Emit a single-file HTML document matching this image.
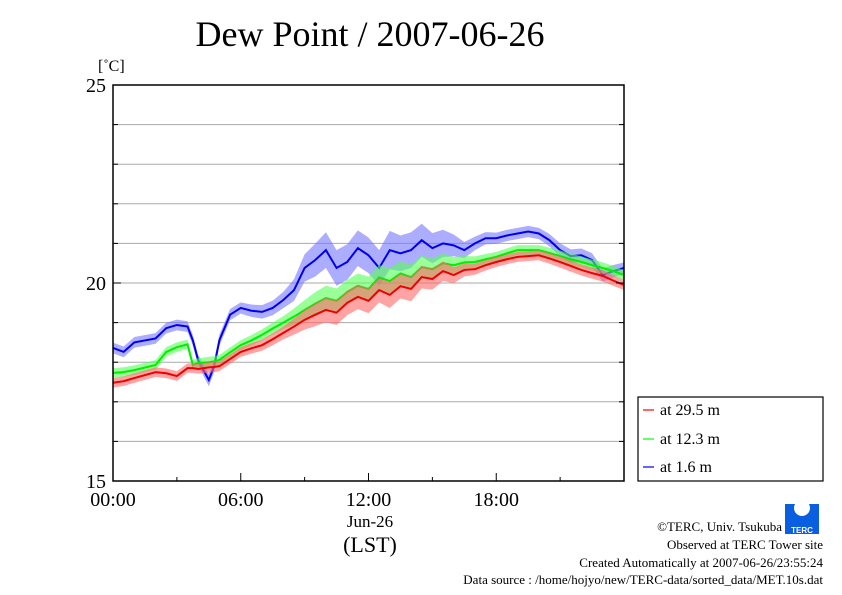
<!DOCTYPE html>
<html><head><meta charset="utf-8"><style>
body{margin:0;background:#fff;}
svg{display:block;font-family:"Liberation Serif",serif;}
</style></head><body>
<svg id="chart" width="842" height="595" viewBox="0 0 842 595">
<text x="370" y="46" font-size="36" text-anchor="middle">Dew Point / 2007-06-26</text>
<text x="98" y="71" font-size="16">[˚C]</text>
<g id="grid"></g>
<g id="series"></g>
<rect x="113" y="85" width="511" height="396" fill="none" stroke="#000" stroke-width="1.5"/>
<g id="axes"></g>
<text x="370" y="527" font-size="17" text-anchor="middle">Jun-26</text>
<text x="370" y="552" font-size="22" text-anchor="middle">(LST)</text>
<g>
<rect x="638" y="397" width="185" height="84" fill="#fff" stroke="#000" stroke-width="1.2"/>
<line x1="643" y1="410" x2="654" y2="410" stroke="#f33" stroke-width="1.5"/>
<text x="660" y="415" font-size="16">at 29.5 m</text>
<line x1="643" y1="439" x2="654" y2="439" stroke="#3f3" stroke-width="1.5"/>
<text x="660" y="444" font-size="16">at 12.3 m</text>
<line x1="643" y1="467" x2="654" y2="467" stroke="#33f" stroke-width="1.5"/>
<text x="660" y="472" font-size="16">at 1.6 m</text>
</g>
<g>
<rect x="785" y="504" width="34" height="30" fill="#0a5fe0"/>
<circle cx="802" cy="508" r="8" fill="#fff"/>
<text x="802" y="533" font-size="8" fill="#fff" text-anchor="middle" font-family="Liberation Sans,sans-serif" font-weight="bold">TERC</text>
</g>
<g font-size="13" text-anchor="end">
<text x="782" y="531">©TERC, Univ. Tsukuba</text>
<text x="823" y="549">Observed at TERC Tower site</text>
<text x="823" y="567">Created Automatically at 2007-06-26/23:55:24</text>
<text x="823" y="584">Data source : /home/hojyo/new/TERC-data/sorted_data/MET.10s.dat</text>
</g>
</svg>
<script>
const hours=[0,0.5,1,2,2.5,3,3.5,3.75,4,4.5,4.75,5,5.5,6,6.5,7,7.5,8,8.5,9,9.5,10,10.5,11,11.5,12,12.5,13,13.5,14,14.5,15,15.5,16,16.5,17,17.5,18,18.5,19,19.5,20,20.5,21,21.5,22,22.5,23,23.5,24];
const blue=[18.36,18.26,18.5,18.6,18.86,18.94,18.9,18.55,18.05,17.55,17.9,18.56,19.2,19.37,19.3,19.27,19.37,19.57,19.82,20.38,20.58,20.83,20.38,20.53,20.88,20.7,20.38,20.83,20.75,20.83,21.08,20.88,21.0,20.95,20.83,21.0,21.13,21.13,21.2,21.25,21.3,21.25,21.08,20.83,20.68,20.7,20.58,20.2,20.3,20.38];
const green=[17.73,17.75,17.8,17.93,18.26,18.38,18.45,17.93,17.98,18.0,18.02,18.06,18.25,18.43,18.55,18.69,18.85,19.0,19.15,19.32,19.48,19.62,19.55,19.77,19.93,19.85,20.14,20.05,20.24,20.15,20.4,20.35,20.5,20.45,20.52,20.53,20.6,20.66,20.75,20.83,20.83,20.83,20.76,20.68,20.6,20.53,20.45,20.38,20.3,20.2];
const red=[17.48,17.52,17.6,17.75,17.72,17.65,17.85,17.85,17.83,17.87,17.88,17.9,18.08,18.26,18.35,18.43,18.58,18.74,18.9,19.07,19.2,19.32,19.25,19.5,19.65,19.55,19.82,19.7,19.92,19.85,20.15,20.1,20.3,20.2,20.33,20.35,20.45,20.53,20.6,20.66,20.68,20.7,20.62,20.53,20.43,20.33,20.25,20.18,20.06,19.95];
const spread=[0.05,0.05,0.05,0.05,0.05,0.05,0.05,0.05,0.05,0.08,0.08,0.06,0.06,0.06,0.08,0.1,0.12,0.15,0.25,0.35,0.45,0.5,0.5,0.5,0.5,0.5,0.5,0.55,0.5,0.5,0.45,0.4,0.35,0.25,0.15,0.1,0.08,0.06,0.06,0.06,0.06,0.06,0.08,0.1,0.1,0.1,0.1,0.1,0.08,0.06];
const yTicks=[15,20,25];
const xTickLabels=["00:00","06:00","12:00","18:00"];
const xTickHours=[0,6,12,18];
const NS="http://www.w3.org/2000/svg";
const X=h=>113+h*511/24, Y=v=>481-(v-15)*39.6;
function mk(tag,attrs,parent){const e=document.createElementNS(NS,tag);for(const k in attrs)e.setAttribute(k,attrs[k]);parent.appendChild(e);return e;}
const grid=document.getElementById('grid'),axes=document.getElementById('axes'),ser=document.getElementById('series');
for(let v=16;v<25;v++){const l=mk('line',{x1:113,x2:624,y1:Y(v),y2:Y(v),stroke:'#aaa','stroke-width':1},grid);

}
for(let v=15;v<=25;v++){const len=yTicks.includes(v)?8:5;
const t1=mk('line',{x1:113,x2:113+len,y1:Y(v),y2:Y(v),stroke:'#000'},axes);


const t2=mk('line',{x1:624,x2:624-len,y1:Y(v),y2:Y(v),stroke:'#000'},axes);

}
yTicks.forEach(v=>{const t=mk('text',{x:106,y:Y(v)+7,'font-size':20,'text-anchor':'end'},axes);t.textContent=v;

});
for(let h=0;h<=24;h+=3){const t=mk('line',{x1:X(h),x2:X(h),y1:481,y2:h%6?477:473,stroke:'#000'},axes);

}
xTickLabels.forEach((s,i)=>{const t=mk('text',{x:X(xTickHours[i]),y:506,'font-size':20,'text-anchor':'middle'},axes);t.textContent=s;

});
function draw(vals,band,line,name,sp){
 let top=hours.map((h,i)=>X(h)+','+Y(vals[i]+0.1+sp[i]*0.7));
 let bot=hours.map((h,i)=>X(h)+','+Y(vals[i]-0.1-sp[i]*0.7)).reverse();
 const b=mk('polygon',{points:top.concat(bot).join(' '),fill:band,'fill-opacity':0.6},ser);
 
 
 const p=mk('polyline',{points:hours.map((h,i)=>X(h)+','+Y(vals[i])).join(' '),fill:'none',stroke:line,'stroke-width':2},ser);
 
 
}
draw(blue,'#77f','#00e','series-1-6m',spread);
draw(green,'#5f5','#0e0','series-12-3m',spread.map(s=>s*0.6));
draw(red,'#f66','#e00','series-29-5m',spread.map(s=>s*0.6));
</script>
</body></html>
